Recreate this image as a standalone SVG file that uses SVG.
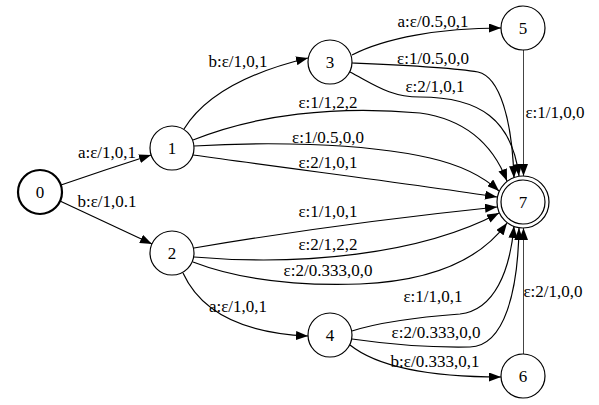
<svg xmlns="http://www.w3.org/2000/svg" width="599" height="405" viewBox="0 0 599 405">
<defs>
<style>
.n circle{fill:#fff;stroke:#000;stroke-width:1.2}
.n text,.l text{font-family:"Liberation Serif","Times New Roman",serif;font-size:17px;fill:#000;text-anchor:middle}
.e path{fill:none;stroke:#000;stroke-width:1.2;marker-end:url(#ah)}
.e path.v{stroke:#444;stroke-width:1}
</style>
<marker id="ah" markerUnits="userSpaceOnUse" markerWidth="12" markerHeight="9" viewBox="0 0 12 9" refX="12" refY="4.5" orient="auto">
<path d="M0,0 L12,4.5 L0,9 z" fill="#000"/>
</marker>
</defs>
<rect width="599" height="405" fill="#fff"/>
<g id="edges" class="e">
<path d="M61,185 C90,175 120,165 151,155"/>
<path d="M60,201 C90,215 120,229 152,244"/>
<path d="M184,129 C205,95 250,72 308,58"/>
<path d="M193,140 C255,115 335,105 420,113 C470,120 495,150 507,181"/>
<path d="M194,146 C260,142 360,142 430,158 C465,166 485,178 499,191"/>
<path d="M193,155 C300,170 420,185 497,197"/>
<path d="M352,55 C385,38 440,28 501,28"/>
<path d="M352,63 C400,65 450,67 478,72 C500,77 512,120 514,178"/>
<path d="M350,72 C375,85 390,97 420,97 C480,97 512,120 519,176"/>
<path class="v" d="M523.5,50 L523.5,176"/>
<path d="M194,248 C300,230 420,215 497,207"/>
<path d="M194,257 C300,266 420,255 499,213"/>
<path d="M193,262 C240,280 300,286 360,284 C430,281 480,260 507,223"/>
<path d="M183,273 C200,310 240,333 308,336"/>
<path d="M352,331 C380,322 420,317 460,314 C495,310 510,270 514,226"/>
<path d="M352,339 C380,343 420,348 470,347 C505,346 518,290 519,228"/>
<path d="M350,345 C375,365 420,377 501,377"/>
<path class="v" d="M523.5,354 L523.5,228"/>
</g>
<g id="labels" class="l">
<text x="107" y="158">a:ε/1,0,1</text>
<text x="107" y="207">b:ε/1,0.1</text>
<text x="238" y="67">b:ε/1,0,1</text>
<text x="328" y="108">ε:1/1,2,2</text>
<text x="328" y="143">ε:1/0.5,0,0</text>
<text x="328" y="168">ε:2/1,0,1</text>
<text x="433" y="27">a:ε/0.5,0,1</text>
<text x="433" y="64">ε:1/0.5,0,0</text>
<text x="435" y="92">ε:2/1,0,1</text>
<text x="555" y="118">ε:1/1,0,0</text>
<text x="328" y="217">ε:1/1,0,1</text>
<text x="328" y="250">ε:2/1,2,2</text>
<text x="328" y="276">ε:2/0.333,0,0</text>
<text x="238" y="312">a:ε/1,0,1</text>
<text x="433" y="302">ε:1/1,0,1</text>
<text x="436" y="338">ε:2/0.333,0,0</text>
<text x="435" y="367">b:ε/0.333,0,1</text>
<text x="553" y="297">ε:2/1,0,0</text>
</g>
<g id="node0" class="n"><circle cx="40" cy="192" r="22" style="stroke-width:2.2"/><text x="40" y="198">0</text></g>
<g id="node1" class="n"><circle cx="172" cy="148" r="22"/><text x="172" y="154">1</text></g>
<g id="node2" class="n"><circle cx="172" cy="253" r="22"/><text x="172" y="259">2</text></g>
<g id="node3" class="n"><circle cx="330" cy="62" r="22"/><text x="330" y="68">3</text></g>
<g id="node4" class="n"><circle cx="330" cy="335" r="22"/><text x="330" y="341">4</text></g>
<g id="node5" class="n"><circle cx="523" cy="28" r="22"/><text x="523" y="34">5</text></g>
<g id="node6" class="n"><circle cx="523" cy="376" r="22"/><text x="523" y="382">6</text></g>
<g id="node7" class="n"><circle cx="523" cy="202" r="26"/><circle cx="523" cy="202" r="22"/><text x="523" y="208">7</text></g>
</svg>
